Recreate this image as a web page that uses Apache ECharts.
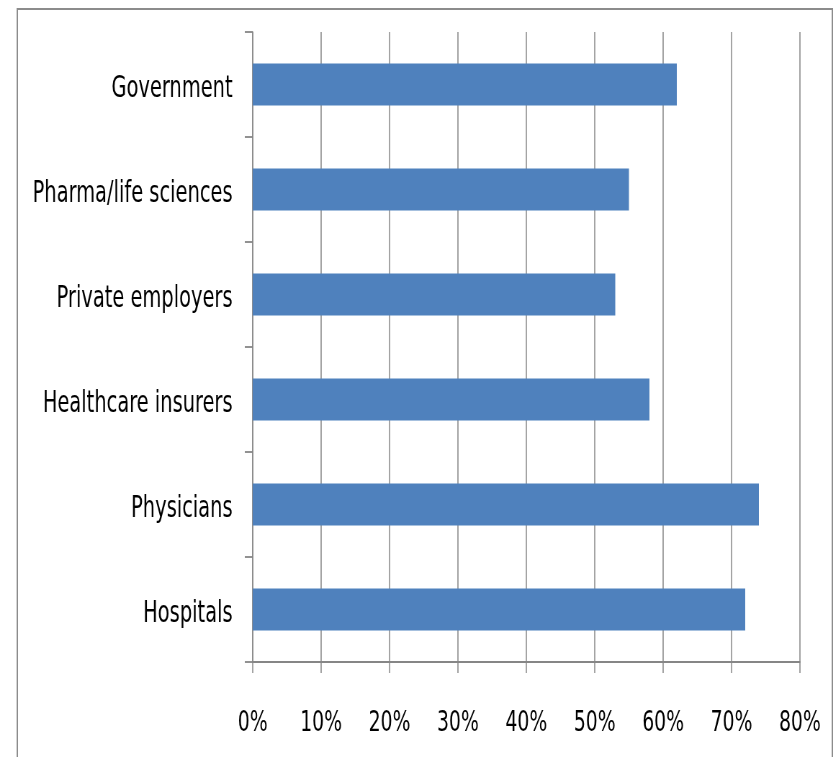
<!DOCTYPE html>
<html><head><meta charset="utf-8">
<script src="https://cdn.jsdelivr.net/npm/echarts@6/dist/echarts.min.js"></script>
<style>html,body{margin:0;padding:0;background:#fff;overflow:hidden;width:838px;height:757px}
#c{width:1164px;height:757px;transform:scaleX(0.72);transform-origin:0 0}</style>
</head><body><div id="c"></div>
<script>
const categories = ['Hospitals', 'Physicians', 'Healthcare insurers', 'Private employers', 'Pharma/life sciences', 'Government'];
const values = [72, 74, 58, 53, 55, 62];
const tickLabels = ['0%', '10%', '20%', '30%', '40%', '50%', '60%', '70%', '80%'];

const font = '"DejaVu Sans Condensed", "Liberation Sans Narrow", sans-serif';
const chart = echarts.init(document.getElementById('c'), null, {renderer: 'canvas', width: 1164, height: 757});
chart.setOption({
  animation: false,
  graphic: [{
    type: 'rect', silent: true,
    shape: {x: 24, y: 9, width: 1132, height: 770},
    style: {fill: 'none', stroke: '#8c8c8c', lineWidth: 2}
  }],
  grid: {left: 351, right: 53, top: 32, bottom: 95, outerBoundsMode: 'none', containLabel: false},
  xAxis: {
    type: 'value', min: 0, max: 80, interval: 10,
    axisLine: {show: true, lineStyle: {color: '#868686', width: 1.8}},
    axisTick: {show: true, length: 11, lineStyle: {color: '#868686', width: 1.5}},
    splitLine: {show: true, lineStyle: {color: '#868686', width: 1.5}},
    axisLabel: {
      margin: 47, color: '#000', fontFamily: font, fontSize: 29,
      formatter: function (v) { return tickLabels[Math.round(v / 10)]; }
    }
  },
  yAxis: {
    type: 'category', data: categories,
    axisLine: {show: true, lineStyle: {color: '#868686', width: 1.5}},
    axisTick: {show: true, length: 11, lineStyle: {color: '#868686', width: 1.8}},
    axisLabel: {
      margin: 28, color: '#000', fontFamily: font, fontSize: 30,
      formatter: function (v) { return '{a|' + v + '}'; },
      rich: {a: {color: '#000', fontFamily: font, fontSize: 30, padding: [10, 0, 0, 0]}}
    }
  },
  series: [{
    type: 'bar', data: values, barCategoryGap: '60%',
    itemStyle: {color: '#4F81BD'}
  }]
});
</script></body></html>
